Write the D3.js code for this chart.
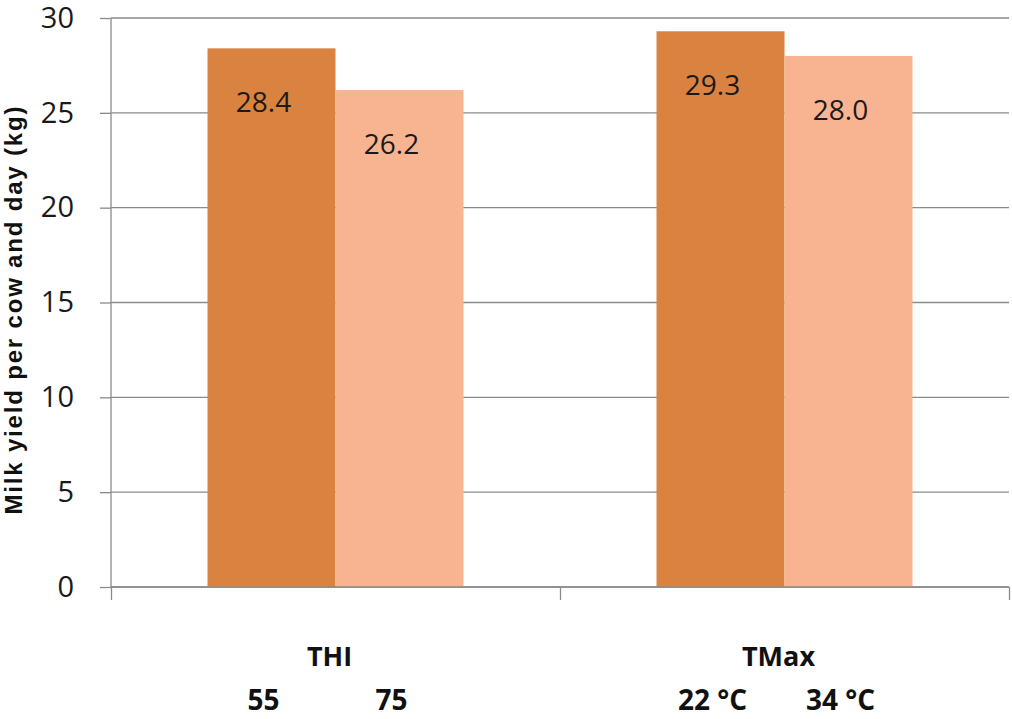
<!DOCTYPE html>
<html>
<head>
<meta charset="utf-8">
<script src="https://cdn.jsdelivr.net/npm/d3@7"></script>
<style>
  html, body { margin: 0; padding: 0; background: #fff; }
  svg { display: block; }
</style>
</head>
<body>
<svg id="chart" width="1012" height="719"></svg>
<script>
// ---- data ----
const categories = ["THI", "TMax"];
const lowLabels = ["55", "22 °C"];
const highLabels = ["75", "34 °C"];
const lowValues = [28.4, 29.3];
const highValues = [26.2, 28.0];
const yTicks = [0, 5, 10, 15, 20, 25, 30];
const yTitle = "Milk yield per cow and day (kg)";

// ---- layout ----
const plotLeft = 111, plotRight = 1009, plotTop = 18, plotBottom = 587;
const darkColor = "#DA8240", lightColor = "#F8B490", gridColor = "#8a8a8a";

const svg = d3.select("#chart");

const x = d3.scaleBand().domain(categories).range([plotLeft, plotRight]).paddingInner(0).paddingOuter(0);
const x1 = d3.scaleBand().domain(["low", "high"]).range([0, x.bandwidth()]).paddingOuter(0.754).paddingInner(0);
const y = d3.scaleLinear().domain([0, 30]).range([plotBottom, plotTop]);

// gridlines
svg.append("g").selectAll("line").data(yTicks).join("line")
  .attr("x1", plotLeft).attr("x2", plotRight)
  .attr("y1", d => y(d)).attr("y2", d => y(d))
  .attr("stroke", gridColor).attr("stroke-width", 1.3);

// bars
const rows = categories.map((c, i) => ({ c, i, vals: [
  { key: "low", v: lowValues[i], color: darkColor },
  { key: "high", v: highValues[i], color: lightColor }
]}));

const groups = svg.append("g").selectAll("g").data(rows).join("g")
  .attr("transform", d => `translate(${x(d.c)},0)`);

groups.selectAll("rect").data(d => d.vals).join("rect")
  .attr("x", d => x1(d.key))
  .attr("width", x1.bandwidth())
  .attr("y", d => y(d.v))
  .attr("height", d => y(0) - y(d.v))
  .attr("fill", d => d.color);

groups.selectAll("text.val").data(d => d.vals).join("text")
  .attr("class", "val")
  .attr("x", d => x1(d.key) + x1.bandwidth() / 2 - 8)
  .attr("y", d => y(d.v) + 53)
  .attr("text-anchor", "middle")
  .attr("dominant-baseline", "central")
  .attr("font-family", "'Open Sans', 'Liberation Sans', sans-serif")
  .attr("font-size", 28)
  .attr("fill", "#1a1a1a")
  .text(d => d.v.toFixed(1));

// y axis
const yAxis = svg.append("g")
  .attr("transform", `translate(${plotLeft},0)`)
  .call(d3.axisLeft(y).tickValues(yTicks).tickSize(11).tickPadding(26).tickFormat(d3.format("d")));
yAxis.select(".domain").attr("stroke", gridColor).attr("stroke-width", 1.3)
  .attr("d", `M0,${plotTop}V${plotBottom}`);
yAxis.selectAll(".tick line").attr("stroke", gridColor).attr("stroke-width", 1.3);
yAxis.selectAll(".tick text")
  .attr("font-family", "'Open Sans', 'Liberation Sans', sans-serif")
  .attr("font-size", 29).attr("fill", "#1a1a1a");

// x axis
const xAxis = svg.append("g")
  .attr("transform", `translate(0,${plotBottom})`)
  .call(d3.axisBottom(d3.scaleLinear().domain([0, 2]).range([plotLeft, plotRight]))
    .tickValues([0, 1, 2]).tickSize(13).tickFormat(""));
xAxis.select(".domain").attr("stroke", gridColor).attr("stroke-width", 1.3)
  .attr("d", `M${plotLeft},0H${plotRight}`);
xAxis.selectAll(".tick line").attr("stroke", gridColor).attr("stroke-width", 1.3);

// category labels
const labelFont = "'Open Sans', 'Liberation Sans', sans-serif";
svg.append("g").selectAll("text").data(categories).join("text")
  .attr("x", d => x(d) + x.bandwidth() / 2 - 6)
  .attr("y", 666)
  .attr("text-anchor", "middle")
  .attr("font-family", labelFont).attr("font-weight", "bold")
  .attr("font-size", 27).attr("fill", "#111")
  .text(d => d);

const subs = [];
categories.forEach((c, i) => {
  subs.push({ c, key: "low", t: lowLabels[i] });
  subs.push({ c, key: "high", t: highLabels[i] });
});
svg.append("g").selectAll("text").data(subs).join("text")
  .attr("x", d => x(d.c) + x1(d.key) + x1.bandwidth() / 2 - 8)
  .attr("y", 710)
  .attr("text-anchor", "middle")
  .attr("font-family", labelFont).attr("font-weight", "bold")
  .attr("font-size", 28).attr("fill", "#111")
  .text(d => d.t);

// y title
svg.append("text")
  .attr("transform", `translate(22,${(plotTop + plotBottom) / 2 + 8}) rotate(-90)`)
  .attr("text-anchor", "middle")
  .attr("font-family", "'Liberation Sans', Arial, sans-serif")
  .attr("font-weight", "bold")
  .attr("font-size", 24)
  .attr("textLength", 408)
  .attr("lengthAdjust", "spacing")
  .attr("fill", "#111")
  .text(yTitle);
</script>
</body>
</html>
